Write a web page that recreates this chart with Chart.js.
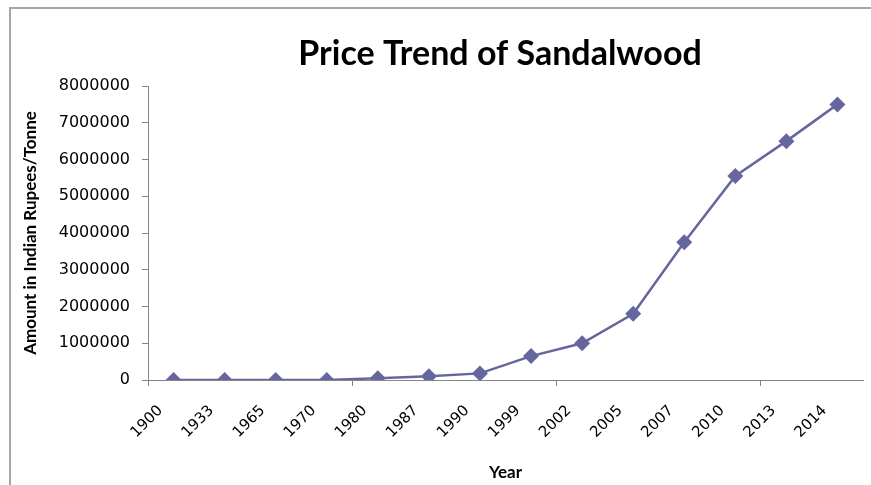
<!DOCTYPE html>
<html>
<head>
<meta charset="utf-8">
<script src="https://cdn.jsdelivr.net/npm/chart.js@4/dist/chart.umd.min.js"></script>
<style>
  html, body { margin: 0; padding: 0; background: #fff; }
  #wrap { position: relative; width: 871px; height: 485px; }
  #frame {
    position: absolute; left: 9px; top: 7px; right: -5px; bottom: -5px;
    border-left: 2px solid #a6a6a6; border-top: 2px solid #a6a6a6;
  }
  canvas { position: absolute; left: 0; top: 0; }
</style>
</head>
<body>
<div id="wrap">
  <div id="frame"></div>
  <canvas id="myChart" width="871" height="485"></canvas>
</div>
<script>
document.addEventListener("DOMContentLoaded", function (event) {
    // years and price per tonne (Indian Rupees)
    const years = ['1900', '1933', '1965', '1970', '1980', '1987', '1990',
                   '1999', '2002', '2005', '2007', '2010', '2013', '2014'];
    const prices = [0, 0, 0, 0, 50000, 100000, 180000,
                    650000, 1000000, 1800000, 3750000, 5550000, 6500000, 7500000];
    const yMax = 8000000;
    const yStep = 1000000;
    const chartTitle = 'Price Trend of Sandalwood';

    const axisGray = '#868686';
    const lineColor = '#66669e';

    // title drawn by hand so it can sit off-centre like the original sheet
    const titlePlugin = {
        id: 'sheetTitle',
        afterDraw: function (chart) {
            const ctx = chart.ctx;
            ctx.save();
            ctx.font = 'bold 34px Lato';
            ctx.fillStyle = '#000';
            ctx.textAlign = 'center';
            ctx.textBaseline = 'middle';
            ctx.fillText(chartTitle, 500, 54);
            ctx.restore();
        }
    };

    const data = {
        labels: years,
        datasets: [{
            label: 'Price',
            data: prices,
            borderColor: lineColor,
            backgroundColor: lineColor,
            borderWidth: 2.5,
            pointStyle: 'rectRot',
            pointRadius: 8,
            pointBorderWidth: 0,
            pointBackgroundColor: lineColor,
            tension: 0
        }]
    };

    const config = {
        type: 'line',
        data: data,
        plugins: [titlePlugin],
        options: {
            responsive: false,
            animation: false,
            layout: { padding: { left: 12, right: 3, top: 86, bottom: 2 } },
            plugins: {
                legend: { display: false },
                tooltip: { enabled: false },
                title: { display: false }
            },
            scales: {
                x: {
                    offset: true,
                    border: { display: true, color: axisGray, width: 1 },
                    grid: {
                        offset: true,
                        drawOnChartArea: false,
                        drawTicks: true,
                        tickLength: 6,
                        // tick marks every fourth category boundary
                        color: function (ctx) {
                            return (ctx.type === 'tick' && ctx.index % 4 === 0) ? axisGray : 'rgba(0,0,0,0)';
                        }
                    },
                    ticks: {
                        autoSkip: false,
                        minRotation: 45,
                        maxRotation: 45,
                        labelOffset: -13,
                        padding: 16,
                        color: '#000',
                        font: { family: 'DejaVu Sans', size: 15 }
                    },
                    title: {
                        display: true,
                        text: 'Year',
                        color: '#000',
                        font: { family: 'Lato', size: 17, weight: 'bold' },
                        padding: { top: 0, bottom: 0 }
                    },
                    afterFit: function (scale) {
                        scale.height = 103;
                        scale.paddingRight = 0;
                    }
                },
                y: {
                    min: 0,
                    max: yMax,
                    border: { display: true, color: axisGray, width: 1 },
                    grid: {
                        drawOnChartArea: false,
                        drawTicks: true,
                        tickLength: 6,
                        color: axisGray
                    },
                    ticks: {
                        stepSize: yStep,
                        padding: 12,
                        color: '#000',
                        font: { family: 'DejaVu Sans', size: 16 },
                        callback: function (v) { return String(v); }
                    },
                    title: {
                        display: true,
                        text: 'Amount in Indian Rupees/Tonne',
                        color: '#000',
                        font: { family: 'Lato', size: 17, weight: 'bold' },
                        padding: { top: 8, bottom: 0 }
                    },
                    afterFit: function (scale) { scale.width = 136; }
                }
            }
        }
    };

    const myChart = new Chart(
        document.getElementById('myChart'),
        config
    );
});
</script>
</body>
</html>
